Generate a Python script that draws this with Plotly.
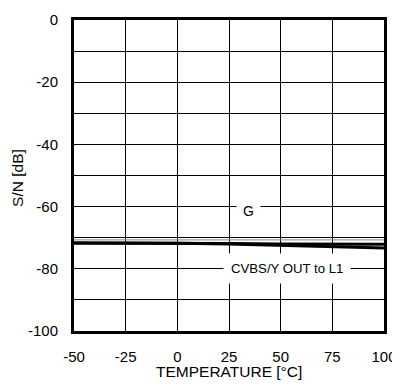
import plotly.graph_objects as go

temperature = [-50, -25, 0, 25, 50, 75, 100]
sn_g = [-71.7, -71.7, -71.8, -71.9, -72.0, -72.0, -72.1]
sn_cvbs = [-71.7, -71.7, -71.8, -72.0, -72.4, -72.8, -73.3]
sn_faint = [-70.7, -70.7, -70.7, -70.7, -70.7, -70.7, -70.7]

x_ticks = [-50, -25, 0, 25, 50, 75, 100]
x_tick_labels = ["-50", "-25", "0", "25", "50", "75", "100"]
y_ticks = [0, -20, -40, -60, -80, -100]
y_tick_labels = ["0", "-20", "-40", "-60", "-80", "-100"]

FAM = "Liberation Sans, Arial, sans-serif"
tick_font = dict(family=FAM, size=15, color="black")
title_font = dict(family=FAM, size=15.5, color="black")
label_font = dict(family=FAM, size=13.2, color="black")
g_font = dict(family=FAM, size=14, color="black")

fig = go.Figure()
fig.add_trace(go.Scatter(x=temperature, y=sn_faint, mode="lines",
                         line=dict(color="#888888", width=1), showlegend=False))
fig.add_trace(go.Scatter(x=temperature, y=sn_g, mode="lines",
                         line=dict(color="black", width=3), showlegend=False))
fig.add_trace(go.Scatter(x=temperature, y=sn_cvbs, mode="lines",
                         line=dict(color="black", width=3), showlegend=False))

fig.add_annotation(x=34.5, y=-61.3, text="G", showarrow=False, font=g_font,
                   bgcolor="white", borderpad=6)
fig.add_annotation(x=53, y=-79.8, text="CVBS/Y OUT to L1", showarrow=False, font=label_font,
                   bgcolor="white", borderpad=7)
fig.add_annotation(x=0.5, y=-0.131, xref="paper", yref="paper", yanchor="middle",
                   text="TEMPERATURE [°C]", showarrow=False, font=title_font)
fig.add_annotation(x=-0.181, y=0.492, xref="paper", yref="paper",
                   xanchor="center", yanchor="middle", textangle=-90,
                   text="S/N [dB]", showarrow=False, font=title_font)

fig.update_layout(
    width=400, height=388,
    margin=dict(l=66, r=24, t=12, b=65),
    paper_bgcolor="white", plot_bgcolor="white",
    font=tick_font,
    xaxis=dict(range=[-50, 100], tickvals=x_ticks, ticktext=x_tick_labels,
               automargin=False, tickfont=tick_font,
               showgrid=True, gridcolor="black", gridwidth=1,
               showline=True, linecolor="black", linewidth=3, mirror=True,
               ticks="outside", ticklen=10, tickcolor="rgba(0,0,0,0)",
               zeroline=False),
    yaxis=dict(range=[-100, 0], tickvals=y_ticks, ticktext=y_tick_labels,
               automargin=False, tickfont=tick_font,
               showline=True, linecolor="black", linewidth=3, mirror=True,
               ticks="outside", ticklen=10, tickcolor="rgba(0,0,0,0)",
               zeroline=False),
)
fig.update_yaxes(showgrid=True, gridcolor="black", gridwidth=1,
                 minor=dict(dtick=10, showgrid=True, gridcolor="black", gridwidth=1))

fig.write_html("out.html")
